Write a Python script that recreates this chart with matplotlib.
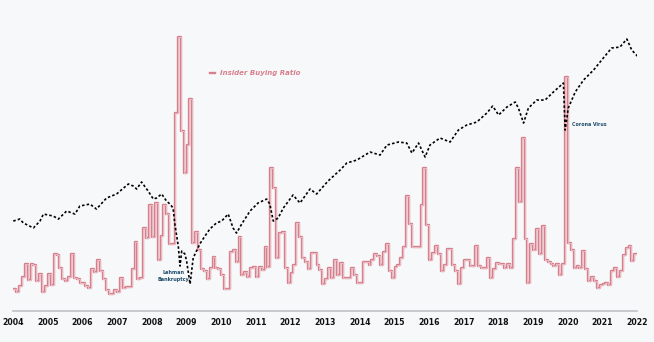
import matplotlib
matplotlib.use('Agg')
import matplotlib.pyplot as plt
import numpy as np

# insider buying ratio, monthly from Jan 2004
ratio = [
    0.22, 0.19, 0.25, 0.34, 0.47, 0.31, 0.47, 0.46, 0.30, 0.37, 0.19, 0.25,  # 2004
    0.37, 0.26, 0.57, 0.56, 0.43, 0.32, 0.30, 0.34, 0.57, 0.33, 0.32, 0.28,  # 2005
    0.28, 0.25, 0.23, 0.42, 0.39, 0.51, 0.40, 0.32, 0.21, 0.17, 0.17, 0.21,  # 2006
    0.19, 0.33, 0.23, 0.24, 0.24, 0.42, 0.69, 0.32, 0.33, 0.83, 0.73, 1.06,  # 2007
    0.74, 1.08, 0.51, 0.75, 1.06, 0.97, 0.67, 0.67, 1.98, 2.74, 1.80, 1.38,  # 2008
    1.66, 2.12, 0.68, 0.79, 0.61, 0.42, 0.40, 0.32, 0.43, 0.54, 0.43, 0.42,  # 2009
    0.36, 0.22, 0.22, 0.59, 0.61, 0.49, 0.74, 0.36, 0.39, 0.34, 0.43, 0.44,  # 2010
    0.34, 0.44, 0.41, 0.64, 0.44, 1.43, 1.23, 0.53, 0.78, 0.79, 0.43, 0.28,  # 2011
    0.38, 0.46, 0.88, 0.74, 0.53, 0.49, 0.42, 0.58, 0.58, 0.46, 0.41, 0.27,  # 2012
    0.32, 0.43, 0.33, 0.51, 0.36, 0.48, 0.33, 0.33, 0.33, 0.43, 0.36, 0.28,  # 2013
    0.28, 0.49, 0.49, 0.46, 0.51, 0.57, 0.55, 0.46, 0.59, 0.67, 0.40, 0.33,  # 2014
    0.44, 0.46, 0.53, 0.64, 1.15, 0.87, 0.64, 0.64, 0.64, 1.06, 1.43, 0.86,  # 2015
    0.51, 0.58, 0.65, 0.57, 0.40, 0.46, 0.62, 0.62, 0.46, 0.40, 0.27, 0.43,  # 2016
    0.51, 0.51, 0.45, 0.45, 0.65, 0.45, 0.43, 0.43, 0.53, 0.33, 0.42, 0.48,  # 2017
    0.47, 0.47, 0.43, 0.47, 0.43, 0.72, 1.43, 1.09, 1.73, 0.72, 0.28, 0.67,  # 2018
    0.61, 0.82, 0.57, 0.85, 0.51, 0.49, 0.47, 0.45, 0.47, 0.36, 0.47, 2.34,  # 2019
    0.68, 0.61, 0.43, 0.45, 0.43, 0.60, 0.42, 0.30, 0.34, 0.30, 0.23, 0.26,  # 2020
    0.27, 0.28, 0.26, 0.40, 0.43, 0.34, 0.40, 0.56, 0.63, 0.65, 0.50, 0.57,  # 2021
]

# S&P 500
sp_years = [2004.00, 2004.19, 2004.29, 2004.58, 2004.77, 2004.87, 2005.15, 2005.30,
            2005.54, 2005.78, 2005.92, 2006.21, 2006.40, 2006.69, 2006.98, 2007.32,
            2007.46, 2007.56, 2007.70, 2007.89, 2008.04, 2008.13, 2008.28, 2008.42,
            2008.52, 2008.61, 2008.66, 2008.76, 2008.81, 2008.86, 2008.95, 2009.00,
            2009.10, 2009.19, 2009.38, 2009.53, 2009.67, 2009.86, 2010.01, 2010.20,
            2010.34, 2010.44, 2010.59, 2010.83, 2011.06, 2011.31, 2011.40, 2011.50,
            2011.64, 2011.79, 2012.07, 2012.27, 2012.56, 2012.75, 2013.08, 2013.43,
            2013.62, 2013.91, 2014.29, 2014.58, 2014.78, 2015.11, 2015.35, 2015.50,
            2015.69, 2015.88, 2016.02, 2016.31, 2016.60, 2016.84, 2017.08, 2017.37,
            2017.66, 2017.83, 2018.00, 2018.24, 2018.48, 2018.57, 2018.72, 2018.86,
            2019.10, 2019.34, 2019.58, 2019.87, 2019.92, 2020.01, 2020.21, 2020.45,
            2020.74, 2021.02, 2021.26, 2021.50, 2021.70, 2021.84, 2022.03]
sp_values = [1117, 1135, 1100, 1057, 1117, 1181, 1163, 1135,
             1210, 1181, 1259, 1279, 1229, 1342, 1386, 1501,
             1477, 1442, 1525, 1419, 1331, 1342, 1386, 1310,
             1279, 1239, 1091, 915, 780, 879, 859, 812,
             676, 832, 930, 991, 1048, 1100, 1117, 1181,
             1057, 1015, 1091, 1210, 1290, 1331, 1279, 1117,
             1144, 1239, 1375, 1290, 1442, 1386, 1537, 1678,
             1774, 1817, 1937, 1891, 2048, 2098, 2081, 1922,
             2081, 1861, 2048, 2166, 2098, 2308, 2402, 2460,
             2643, 2795, 2602, 2773, 2886, 2751, 2441, 2751,
             2932, 2932, 3125, 3358, 2308, 2751, 3125, 3439,
             3725, 4098, 4439, 4474, 4769, 4369, 4132]

year_labels = [str(y) for y in range(2004, 2023)]

bg = '#f7f8fa'
pink = '#d77f8d'
navy = '#1f4d6b'

fig = plt.figure(figsize=(6.54, 3.42), dpi=100, facecolor=bg)
ax = fig.add_axes([0.0203, 0.0906, 0.9541, 0.8216])
ax.set_facecolor(bg)

months = 2004 + np.arange(len(ratio) + 1) / 12
vals = ratio + [ratio[-1]]
line, = ax.plot(months, vals, drawstyle='steps-post', color=pink, lw=1.7,
                label='Insider Buying Ratio', zorder=3)
ax.plot(months, vals, drawstyle='steps-post', color='#f2d3d8', lw=0.5, zorder=4)

ax.set_xlim(2004, 2022)
ax.set_ylim(0, 2.81)
ax.set_yticks([])
ax.set_xticks(range(2004, 2023))
ax.set_xticklabels(year_labels, fontsize=5.6, fontweight='bold', color='#111111')
ax.tick_params(axis='x', length=0, pad=5)
for s in ['top', 'left', 'right']:
    ax.spines[s].set_visible(False)
ax.spines['bottom'].set_color('#c4c6ca')
ax.spines['bottom'].set_linewidth(1.3)

ax2 = ax.twinx()
ax2.set_yscale('log')
ax2.plot(sp_years, sp_values, color='black', lw=1.2, ls=(0, (1.5, 1.3)), zorder=5)
ax2.set_ylim(545, 5125)
ax2.set_xlim(2004, 2022)
ax2.axis('off')

ax.text(2008.61, 0.35, 'Lehman\nBankruptcy', fontsize=3.5, color=navy, fontweight='bold',
        ha='center', va='center', linespacing=1.3)
ax.text(2020.11, 1.87, 'Corona Virus', fontsize=3.4, color=navy, fontweight='bold',
        ha='left', va='center')

leg = ax.legend(handles=[line], loc='center left', bbox_to_anchor=(0.305, 0.847),
                frameon=False, handlelength=0.7, handletextpad=0.7,
                prop={'size': 5.0, 'style': 'italic', 'weight': 'bold'})
for t in leg.get_texts():
    t.set_color(pink)

fig.savefig('out.png', dpi=100, facecolor=bg)
